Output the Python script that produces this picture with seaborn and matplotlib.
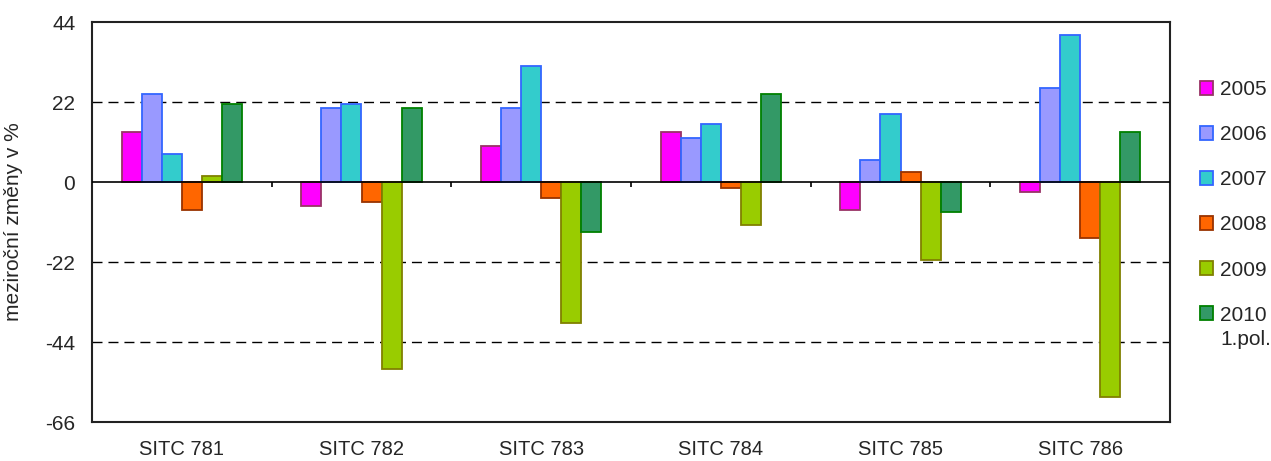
import numpy as np
import pandas as pd
import matplotlib
matplotlib.use("Agg")
import matplotlib.pyplot as plt
import seaborn as sns

categories = ["SITC 781", "SITC 782", "SITC 783", "SITC 784", "SITC 785", "SITC 786"]
years = ["2005", "2006", "2007", "2008", "2009", "2010"]
v2005 = [13.7, -6.7, 9.9, 13.7, -7.8, -2.8]
v2006 = [24.3, 20.4, 20.4, 12.1, 6.1, 25.9]
v2007 = [7.7, 21.5, 32.0, 16.0, 18.8, 40.4]
v2008 = [-7.8, -5.6, -4.5, -1.7, 2.8, -15.5]
v2009 = [1.7, -51.5, -38.7, -11.7, -21.4, -59.1]
v2010 = [21.5, 20.4, -13.8, 24.3, -8.3, 13.7]
fills = ["#FF00FF", "#9999FF", "#33CCCC", "#FF6600", "#99CC00", "#339966"]
edges = ["#993366", "#3366FF", "#3366FF", "#993300", "#808000", "#008000"]
yticks = [-66, -44, -22, 0, 22, 44]

series = [v2005, v2006, v2007, v2008, v2009, v2010]
rows = []
for y, vals in zip(years, series):
    for c, v in zip(categories, vals):
        rows.append({"cat": c, "rok": y, "val": v})
df = pd.DataFrame(rows)

sns.set_style("white")
plt.rcParams["font.family"] = ["Liberation Sans", "DejaVu Sans"]

fig = plt.figure(figsize=(12.71, 4.61), dpi=100)
ax = fig.add_axes([92 / 1271, 39 / 461, 1078 / 1271, 400 / 461])

sns.barplot(data=df, x="cat", y="val", hue="rok", palette=fills,
            width=0.67, saturation=1, ax=ax, zorder=3)

for cont, ec in zip(ax.containers, edges):
    for bar in cont:
        bar.set_edgecolor(ec)
        bar.set_linewidth(1.3)

ax.set_ylim(-66, 44)
ax.set_xlim(-0.5, len(categories) - 0.5)
ax.set_yticks(yticks)
ax.set_yticklabels([str(t) for t in yticks], fontsize=15)
ax.tick_params(axis="x", length=0, labelsize=14.5, pad=13)
ax.tick_params(axis="y", length=0, pad=12)
ax.set_xlabel("")
ax.set_ylabel("meziroční změny v %", fontsize=15, labelpad=16)

for t in [22, -22, -44]:
    ax.axhline(t, color="black", lw=1, ls=(0, (7.2, 4.3)), zorder=1)
ax.axhline(0, color="black", lw=1.2, zorder=4)
ax.vlines(np.arange(0.5, len(categories) - 0.5), -1.3, 0, color="black", lw=1.2, zorder=4)

for s in ax.spines.values():
    s.set_visible(True)
    s.set_color("#222222")
    s.set_linewidth(1.5)

handles, labels = ax.get_legend_handles_labels()
leg = ax.legend(handles, labels, loc="upper left", bbox_to_anchor=(1.02, 0.875),
                frameon=False, fontsize=15, handlelength=0.62, handleheight=0.62,
                handletextpad=0.35, labelspacing=1.25, borderaxespad=0)
for h, ec in zip(leg.legend_handles, edges):
    h.set_edgecolor(ec)
    h.set_linewidth(1.3)

# second line of the last legend entry
fig.canvas.draw()
last = leg.get_texts()[-1]
bb = last.get_window_extent().transformed(fig.transFigure.inverted())
fig.text(bb.x0, bb.y0 - 0.012, "1.pol.", fontsize=15, ha="left", va="top")

fig.savefig("out.png", dpi=100)
